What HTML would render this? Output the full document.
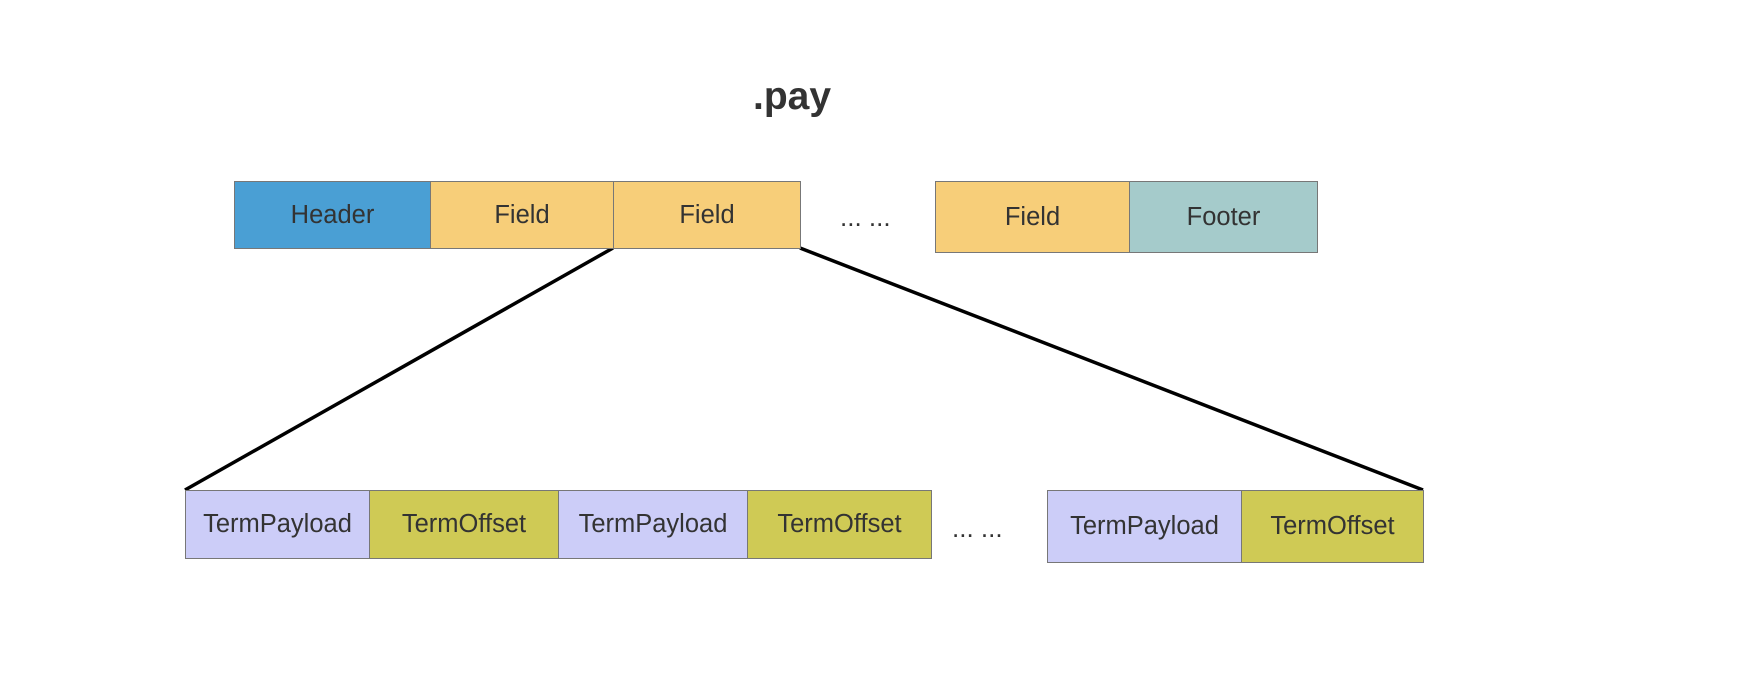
<!DOCTYPE html>
<html><head><style>
body{margin:0;background:#fff;width:1750px;height:698px;overflow:hidden;position:relative;font-family:"Liberation Sans",Arial,sans-serif;color:#333}
.b{position:absolute;box-sizing:border-box;border:1.5px solid #777;display:flex;align-items:center;justify-content:center;font-size:25.5px}
.t{position:absolute;font-size:26px}
</style></head><body>
<div class="t" style="left:753px;top:75px;font-size:39px;font-weight:bold">.pay</div>
<svg width="1750" height="698" style="position:absolute;left:0;top:0">
<line x1="613" y1="248" x2="185" y2="490" stroke="#000" stroke-width="3.5"/>
<line x1="800" y1="248" x2="1423" y2="490" stroke="#000" stroke-width="3.5"/>
</svg>
<div class="b" style="left:234px;top:181px;width:197px;height:68px;background:#4a9fd4">Header</div>
<div class="b" style="left:430px;top:181px;width:184px;height:68px;background:#f7ce79">Field</div>
<div class="b" style="left:613px;top:181px;width:188px;height:68px;background:#f7ce79">Field</div>
<div class="t" style="left:840px;top:202px">... ...</div>
<div class="b" style="left:935px;top:181px;width:195px;height:72px;background:#f7ce79">Field</div>
<div class="b" style="left:1129px;top:181px;width:189px;height:72px;background:#a5cbcb">Footer</div>
<div class="b" style="left:185px;top:490px;width:185px;height:69px;background:#cccdf8">TermPayload</div>
<div class="b" style="left:369px;top:490px;width:190px;height:69px;background:#cfca55">TermOffset</div>
<div class="b" style="left:558px;top:490px;width:190px;height:69px;background:#cccdf8">TermPayload</div>
<div class="b" style="left:747px;top:490px;width:185px;height:69px;background:#cfca55">TermOffset</div>
<div class="t" style="left:952px;top:513px">... ...</div>
<div class="b" style="left:1047px;top:490px;width:195px;height:73px;background:#cccdf8">TermPayload</div>
<div class="b" style="left:1241px;top:490px;width:183px;height:73px;background:#cfca55">TermOffset</div>
</body></html>
